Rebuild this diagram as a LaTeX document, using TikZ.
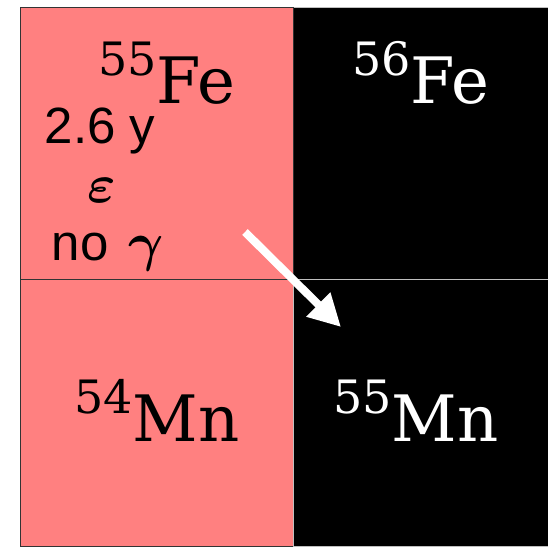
\documentclass[tikz,border=0pt]{standalone}
\usepackage{fontspec}
\setmainfont{Liberation Sans}
\newfontfamily\elemfont{DejaVu Serif}
\usetikzlibrary{arrows.meta}
\definecolor{radiopink}{RGB}{255,128,128}
\newcommand{\nuclide}[2]{\elemfont\raisebox{28pt}{\fontsize{46}{46}\selectfont #1}\fontsize{64}{64}\selectfont #2}
\newcommand{\greekit}[1]{{\normalsize\boldmath\scalebox{5.4}{$#1$}}}

\begin{document}
\begin{tikzpicture}[x=1pt,y=-1pt,>={Triangle[length=32pt,width=32pt]},
 cell/.style={line width=1pt,anchor=north west,inner sep=0pt},
 unstable/.style={cell,fill=radiopink,draw=black!80},
 stable/.style={cell,fill=black,draw=black!25},
 nuc/.style={anchor=base,inner sep=0pt},
 info/.style={anchor=base,inner sep=0pt,font=\fontsize{51}{51}\selectfont}]
\useasboundingbox (0,0) rectangle (548,546);
\node[stable,minimum width=255pt,minimum height=272pt] (fe56box) at (293,7) {};
\node[unstable,minimum width=273pt,minimum height=272pt] (fe55box) at (20,7) {};
\node[unstable,minimum width=273pt,minimum height=267pt] (mn54box) at (20,279) {};
\node[stable,minimum width=255pt,minimum height=267pt] (mn55box) at (293,279) {};
\node[nuc] (fe55) at (167,103) {\nuclide{55}{Fe}};
\node[nuc,text=white] (fe56) at (421,103) {\nuclide{56}{Fe}};
\node[nuc] (mn54) at (157,441) {\nuclide{54}{Mn}};
\node[nuc,text=white] (mn55) at (416,441) {\nuclide{55}{Mn}};
\node[info] (halflife) at (100,143) {2.6 y};
\node[info] (mode) at (102,202) {\greekit{\varepsilon}};
\node[info] (gamma) at (108,260) {no\hspace{20pt}\greekit{\gamma}};
\coordinate (decaystart) at (245,232);
\coordinate (decayend) at (341,327);
\draw[->,white,line width=8pt] (decaystart) -- (decayend);
\end{tikzpicture}
\end{document}
